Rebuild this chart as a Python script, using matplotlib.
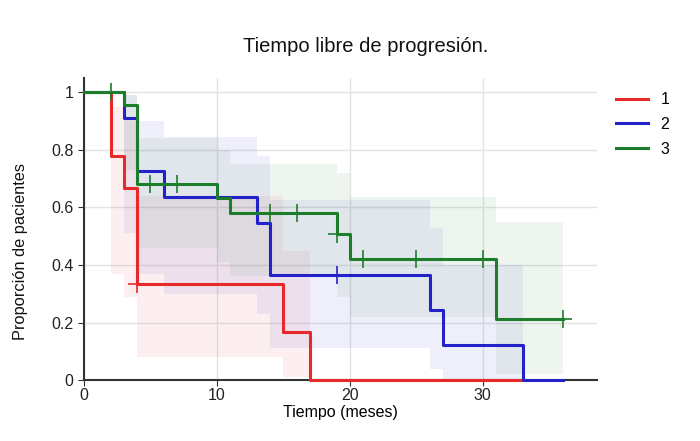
import numpy as np
import matplotlib.pyplot as plt

plt.rcParams['font.family'] = ['Liberation Sans', 'DejaVu Sans']

# Kaplan-Meier steps per group
t1 = [0, 2, 3, 4, 15, 17, 33]
s1 = [1, 0.778, 0.667, 0.333, 0.167, 0, 0]
c1_t = [4]
c1_s = [0.333]
ci1_t = [2, 3, 4, 15, 17]
ci1_lo = [0.37, 0.29, 0.08, 0.01, 0.01]
ci1_hi = [0.95, 0.90, 0.64, 0.45, 0.45]

t2 = [0, 3, 4, 6, 13, 14, 26, 27, 33, 36]
s2 = [1, 0.909, 0.727, 0.636, 0.545, 0.364, 0.242, 0.121, 0, 0]
c2_t = [19]
c2_s = [0.364]
ci2_t = [3, 4, 6, 13, 14, 26, 27, 33]
ci2_lo = [0.51, 0.37, 0.30, 0.23, 0.11, 0.04, 0.005, 0.005]
ci2_hi = [0.99, 0.90, 0.845, 0.78, 0.625, 0.53, 0.40, 0.40]

t3 = [0, 3, 4, 10, 11, 19, 20, 31, 36]
s3 = [1, 0.957, 0.68, 0.631, 0.579, 0.506, 0.42, 0.213, 0.213]
c3_t = [2, 5, 7, 14, 16, 19, 21, 25, 30, 36]
c3_s = [1, 0.68, 0.68, 0.579, 0.579, 0.506, 0.42, 0.42, 0.42, 0.213]
ci3_t = [3, 4, 10, 11, 19, 20, 31, 36]
ci3_lo = [0.73, 0.46, 0.41, 0.36, 0.29, 0.22, 0.02, 0.02]
ci3_hi = [0.99, 0.84, 0.80, 0.75, 0.72, 0.636, 0.55, 0.55]

groups = ['1', '2', '3']
colors = ['#e8282b', '#2222c8', '#1c7d2a']

fig = plt.figure(figsize=(7, 4.41), dpi=100)
ax = fig.add_axes([0.12, 0.138, 0.733, 0.685])

data = [
    (t1, s1, c1_t, c1_s, ci1_t, ci1_lo, ci1_hi),
    (t2, s2, c2_t, c2_s, ci2_t, ci2_lo, ci2_hi),
    (t3, s3, c3_t, c3_s, ci3_t, ci3_lo, ci3_hi),
]

# confidence bands first
for (t, s, ct, cs, cit, lo, hi), col in zip(data, colors):
    ax.fill_between(cit, lo, hi, step='post', color=col, alpha=0.07, linewidth=0)

for (t, s, ct, cs, cit, lo, hi), col, g in zip(data, colors, groups):
    ax.step(t, s, where='post', color=col, linewidth=2.2, label=g,
            zorder=3, clip_on=False)
    ax.plot(ct, cs, linestyle='none', marker='+', markersize=13,
            markeredgewidth=1.2, color=col, zorder=3, clip_on=False)

ax.set_xlim(0, 38.6)
ax.set_ylim(0, 1.049)
ax.set_xticks([0, 10, 20, 30])
ax.set_yticks([0, 0.2, 0.4, 0.6, 0.8, 1])
ax.set_yticklabels(['0', '0.2', '0.4', '0.6', '0.8', '1'])
ax.grid(True, color='#e3e3e3', linewidth=1)
ax.set_axisbelow(True)
for sp in ['top', 'right']:
    ax.spines[sp].set_visible(False)
for sp in ['left', 'bottom']:
    ax.spines[sp].set_color('#333333')
    ax.spines[sp].set_linewidth(1.5)
    ax.spines[sp].set_zorder(2)
ax.tick_params(labelsize=11.5, length=4, color='#333333', labelcolor='#222222')
ax.tick_params(axis='x', pad=2)

ax.set_xlabel('Tiempo (meses)', fontsize=11.5, labelpad=1)
fig.text(0.029, 0.429, 'Proporción de pacientes', fontsize=11.8,
         rotation=90, ha='center', va='center', color='#111111')
fig.text(0.522, 0.895, 'Tiempo libre de progresión.', fontsize=14.5,
         ha='center', va='center', color='#111111')

ax.legend(loc='upper left', bbox_to_anchor=(1.008, 1.0), frameon=False,
          fontsize=11.5, handlelength=2.0, labelspacing=0.6)

fig.savefig('out.png', dpi=100)
